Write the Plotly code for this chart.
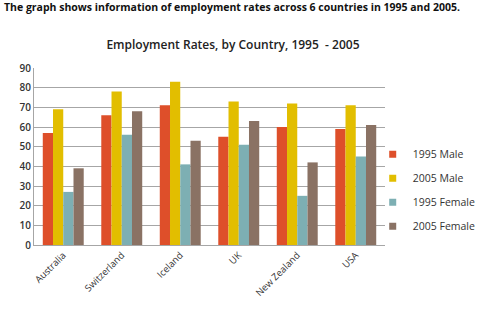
import plotly.graph_objects as go

countries = ["Australia", "Switzerland", "Iceland", "UK", "New Zealand", "USA"]
male_1995 = [57, 66, 71, 55, 60, 59]
male_2005 = [69, 78, 83, 73, 72, 71]
female_1995 = [27, 56, 41, 51, 25, 45]
female_2005 = [39, 68, 53, 63, 42, 61]
y_ticks = [0, 10, 20, 30, 40, 50, 60, 70, 80, 90]

series = [
    ("1995 Male", male_1995, "#DE4F2A"),
    ("2005 Male", male_2005, "#E2BE00"),
    ("1995 Female", female_1995, "#7DAFB3"),
    ("2005 Female", female_2005, "#8A7264"),
]

fig = go.Figure()
for i, (name, vals, col) in enumerate(series):
    fig.add_trace(go.Bar(x=countries, y=vals, name=name, marker=dict(color=col, line=dict(width=0)),
                         showlegend=False))
for i, (name, vals, col) in enumerate(series):
    fig.add_trace(go.Scatter(x=[None], y=[None], name=name, mode="markers",
                             marker=dict(symbol="square", size=7, color=col),
                             legendgroup=str(i)))

fig.update_layout(
    width=501, height=322,
    margin=dict(l=34, r=116, t=68, b=77),
    paper_bgcolor="white", plot_bgcolor="white",
    barmode="group", bargap=0.3, bargroupgap=0,
    font=dict(family="Open Sans, Noto Sans, sans-serif", color="#404040"),
    title=dict(text="Employment Rates, by Country, 1995  - 2005", x=0.465, xanchor="center",
               y=0.86, yanchor="middle", font=dict(size=12, color="#222222", weight=600)),
    legend=dict(x=0.965, xanchor="left", y=0.31, yanchor="middle", font=dict(size=10.5, color="#333333"),
                tracegroupgap=5, itemwidth=30, bgcolor="rgba(0,0,0,0)"),
    annotations=[dict(text="<b>The graph shows information of employment rates across 6 countries in 1995 and 2005.</b>",
                      xref="paper", yref="paper", x=-0.09, xanchor="left", y=1.345, yanchor="middle",
                      showarrow=False, font=dict(size=10.5, color="#111111"))],
    showlegend=True,
)
fig.update_yaxes(range=[0, 90], tickvals=y_ticks, showgrid=True, gridcolor="#A6A6A6", gridwidth=1,
                 showline=True, linecolor="#A6A6A6", zeroline=False, ticks="",
                 tickfont=dict(size=10, color="#333333", weight=600))
fig.update_xaxes(showline=True, linecolor="#A6A6A6", linewidth=1, tickangle=-45,
                 tickfont=dict(size=9.5, color="#333333"), ticks="")

fig.write_html("out.html")
